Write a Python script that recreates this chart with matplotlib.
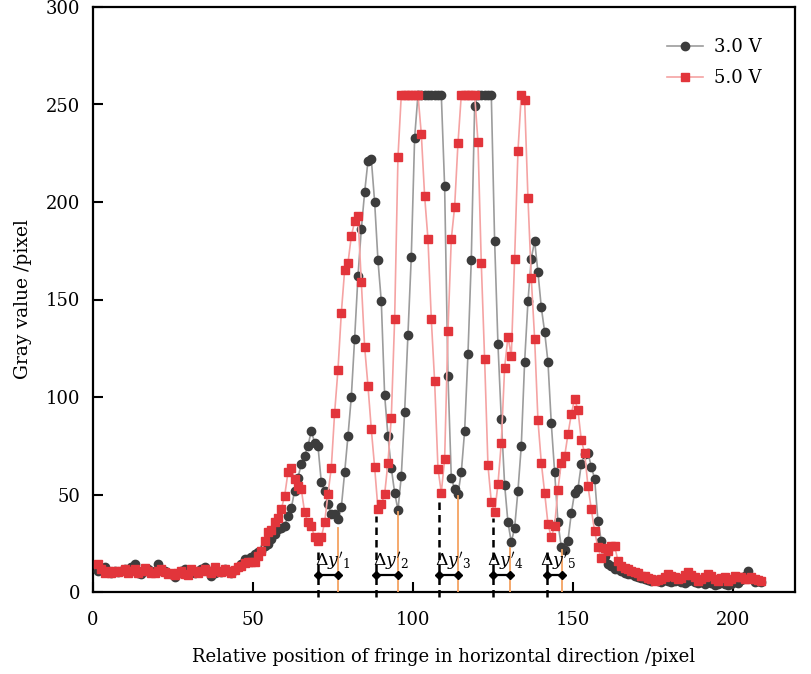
import numpy as np
import matplotlib
matplotlib.use("Agg")
import matplotlib.pyplot as plt

plt.rcParams['font.family'] = ['DejaVu Serif']
plt.rcParams['mathtext.fontset'] = 'dejavuserif'

# ---- data ----
SAMPLE_START = 1.56    # x of first sample
SAMPLE_STEP = 1.0417   # spacing of samples along x

gray_3v = [
    11, 12, 12.8, 11, 10, 11, 10.5, 11, 12, 11.5, 13, 14.3, 10, 9.2, 11, 12, 11, 10.5, 14.3, 12,
    11, 10, 9, 7.7, 10, 11, 12, 10, 9.5, 10, 11, 12, 12.8, 11, 8.2, 10, 11, 10.5, 12, 11,
    10, 11.5, 12.8,
    14.3, 16.9, 17, 18, 19.5, 20.5, 21.1, 23.7, 24.6, 27.1, 29.7, 32.3, 33, 34, 39, 43, 52, 58.7,
    65.5, 70, 75,
    82.6, 76.6, 74.9, 56.2, 51.9, 45, 40, 39.9, 37.4,
    43.4, 61.3, 80, 100, 130,
    162, 186, 205, 221, 222, 200, 170, 149, 101, 80, 63.5, 51, 42, 59.5, 92.5, 132, 172, 233,
    255, 255, 255, 255, 255, 255, 255, 255,
    208, 111, 58.7, 52.7, 50.2, 61.4, 82.6, 122, 170.5, 249,
    255, 255, 255, 255, 255,
    180, 127, 88.6, 55, 35.7, 25.5, 33, 52, 75, 118, 149, 171, 180, 164, 146, 133.5, 118, 86.5,
    61.6, 35.7, 23, 21.5, 26.3, 40.3, 51, 53, 65.5, 70.7, 71.5, 64.2, 58.2, 36.5,
    26.3, 18.6, 14.3, 13.5, 11.8,
    12, 11, 10, 9.2, 9, 8, 7.5, 7, 6.5, 6, 5.8, 6, 5.5, 5, 6, 5.5, 5, 5.5, 6, 5,
    4.5, 5.5, 6, 5, 4.5, 5, 4, 5, 4.5, 3.5, 4, 5, 4, 3.4, 4, 5, 4.5, 6, 8, 10.9,
    7, 5, 5.5, 5,
]

gray_5v = [
    14.5, 12, 10, 11, 10, 11, 10.5, 11, 12, 10, 11, 12, 10, 11, 12.5, 11, 10, 9.5, 11, 12,
    10.5, 9, 10, 8.5, 10, 11, 9, 8.5, 12, 11, 10, 11, 12, 11, 9.5, 13, 11, 10.5, 12, 11,
    10, 11.5, 13,
    13.5, 15, 15.2, 15.2, 15.2, 18.6, 21.1, 26.3, 30.6, 32, 35.7, 38, 42.5, 49.3, 61.3, 63.8,
    57.9, 54.4, 52.7, 40.8,
    35.7, 34, 28, 26.3, 28, 35.7, 50.2, 63.8, 92, 114, 143, 165, 168.7, 182.5, 190,
    192.7, 159, 125.7, 105.7, 83.5, 64, 42.5, 45, 50.2, 66.4, 89.4, 139.8, 223,
    255, 255, 255, 255, 255, 255,
    235, 203, 181, 140, 108, 63.3, 51, 68, 134, 181, 197.5, 230,
    255, 255, 255, 255, 255,
    231, 168.5, 119.3, 65, 46.2, 40.8, 55.3, 76.6, 115, 131, 121, 171, 226, 255, 252.4, 202,
    161, 130, 88, 66.4, 51, 35, 28, 34, 52.4, 66.4, 69.5, 80.9, 91.1, 99.2, 93.2, 78, 71.2,
    54.4, 42.5, 31.1, 22.9, 17.3, 22.4, 21.1, 23.7, 23.7,
    16, 13.5, 12.5, 11.8, 11, 10.1, 9.5, 8.4, 8, 7, 6.7, 5.8, 6.2, 6.7, 7.5, 9.2, 8, 7.5,
    6.7, 7, 8.5, 10.1, 8.5, 7.5, 5.8, 6.5, 7.5, 9.2, 8, 6.7, 5.8, 7, 7.5, 5.8, 6.5, 8.4,
    7.5, 7.5, 6.5, 6.7, 7.5, 6.7, 6.2, 5.8,
]

series_labels = ["3.0 V", "5.0 V"]

# Delta y' annotations: x of 5.0 V minima (dashed) and 3.0 V minima (orange)
dip_labels = [r"$\Delta y'_{1}$", r"$\Delta y'_{2}$", r"$\Delta y'_{3}$",
              r"$\Delta y'_{4}$", r"$\Delta y'_{5}$"]
red_dip_x = [70.4, 88.3, 108.2, 125.1, 141.8]
red_dip_y = [23, 39, 46, 38, 21.5]
black_dip_x = [76.7, 95.4, 114.2, 130.3, 146.5]
black_dip_y = [33, 41, 49, 22.5, 21.5]
bracket_y = 8.7
label_y = 15.5

x_ticks = [0, 50, 100, 150, 200]
y_ticks = [0, 50, 100, 150, 200, 250, 300]

# ---- figure ----
fig = plt.figure(figsize=(8.11, 6.74), dpi=100)
ax = fig.add_axes([93 / 811, 1 - 592 / 674, (795 - 93) / 811, (592 - 7) / 674])

x = SAMPLE_START + SAMPLE_STEP * np.arange(len(gray_3v))
x5 = SAMPLE_START + SAMPLE_STEP * np.arange(len(gray_5v))

ax.plot(x, gray_3v, color='#9c9c9c', lw=1.2, marker='o', ms=6,
        mfc='#3c3c3c', mec='#3c3c3c', label=series_labels[0], zorder=3)
ax.plot(x5, gray_5v, color='#f5a3a3', lw=1.2, marker='s', ms=5.4,
        mfc='#e2353b', mec='#e2353b', label=series_labels[1], zorder=4)

for k in range(len(dip_labels)):
    ax.plot([red_dip_x[k], red_dip_x[k]], [-2.5, red_dip_y[k]], color='black',
            lw=1.8, ls=(0, (3, 2)), zorder=5, clip_on=False)
    ax.plot([black_dip_x[k], black_dip_x[k]], [0, black_dip_y[k]], color='#f4a261',
            lw=1.3, zorder=5)
    ax.plot([red_dip_x[k], black_dip_x[k]], [bracket_y, bracket_y], color='black',
            lw=1.6, marker='D', ms=4.2, zorder=6)
    ax.text((red_dip_x[k] + black_dip_x[k]) / 2 + 1.2, label_y, dip_labels[k],
            ha='center', va='center', fontsize=12.5, zorder=7)

ax.set_xlim(0, 219.4)
ax.set_ylim(0, 300)
ax.set_xticks(x_ticks)
ax.set_yticks(y_ticks)
ax.tick_params(axis='both', direction='in', length=7, width=1.5, labelsize=13)
ax.tick_params(axis='x', pad=14)
ax.tick_params(axis='y', pad=9)
for s in ax.spines.values():
    s.set_linewidth(1.6)
    s.set_color('black')

ax.set_xlabel("Relative position of fringe in horizontal direction /pixel",
              fontsize=13, labelpad=13)
ax.set_ylabel("Gray value /pixel", fontsize=13.5, labelpad=10)

ax.legend(loc='upper right', bbox_to_anchor=(0.975, 0.975), frameon=False,
          fontsize=13, handlelength=2.0, labelspacing=0.75, handletextpad=0.6)

fig.savefig("out.png", dpi=100)
